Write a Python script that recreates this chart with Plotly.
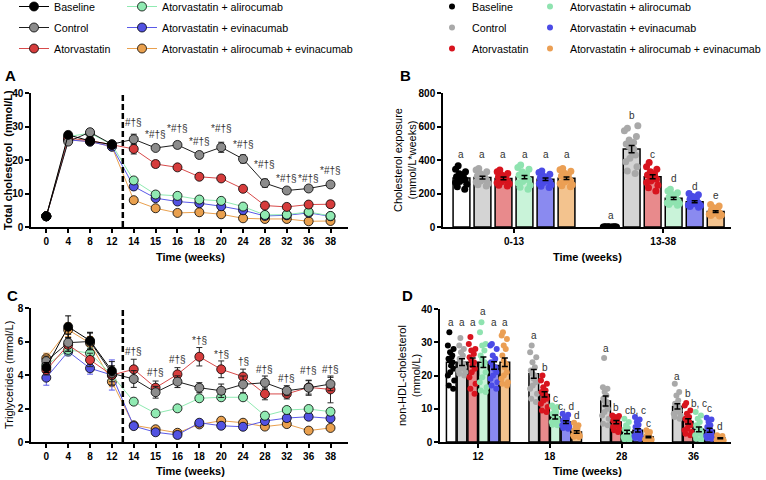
import plotly.graph_objects as go

FONT = "Arial, Liberation Sans, sans-serif"
W, H = 766, 480

GROUPS = ["Baseline", "Control", "Atorvastatin", "Atorvastatin + alirocumab",
          "Atorvastatin + evinacumab", "Atorvastatin + alirocumab + evinacumab"]
WEEKS = ["0", "4", "8", "12", "14", "15", "16", "18", "20", "24", "28", "32", "36", "38"]

# ---------------- Panel A: total cholesterol (mmol/L) ----------------
tc_baseline = [3.2, 27.5, 25.7, 24.6]
tc_control = [3.2, 25.5, 28.3, 24.7, 26.2, 23.6, 24.5, 21.5, 23.8, 20.3, 13.1, 10.9, 11.5, 12.7]
tc_atorva = [3.2, 26.5, 25.8, 24.5, 23.3, 18.8, 17.8, 15.0, 14.5, 11.4, 6.4, 6.0, 6.7, 6.8]
tc_ali = [3.2, 27.0, 28.0, 24.6, 13.9, 9.7, 9.3, 8.2, 7.8, 6.1, 3.6, 3.7, 4.5, 3.3]
tc_evi = [3.2, 26.0, 25.5, 24.0, 12.1, 8.6, 7.6, 7.1, 6.2, 5.0, 3.3, 3.5, 4.2, 3.2]
tc_triple = [3.2, 26.0, 25.5, 24.0, 8.0, 5.6, 4.2, 4.4, 3.8, 2.6, 2.4, 2.4, 1.7, 1.8]
tc_baseline_sem = [0.3, 0.8, 0.8, 0.6]
tc_control_sem = [0.3, 0.8, 0.9, 0.6, 1.5, 0.8, 1.0, 1.0, 1.5, 1.2, 1.2, 0.6, 0.6, 0.6]
tc_atorva_sem = [0.3, 0.6, 0.6, 0.5, 1.5, 1.0, 0.7, 0.6, 0.6, 0.6, 0.5, 0.5, 0.6, 1.0]
tc_ali_sem = [0.3, 0.6, 0.6, 0.5, 0.7, 0.5, 0.5, 0.4, 0.4, 0.4, 0.3, 0.3, 0.3, 0.3]
tc_evi_sem = [0.3, 0.6, 0.6, 0.5, 0.6, 0.4, 0.4, 0.4, 0.4, 0.3, 0.3, 0.3, 0.3, 0.3]
tc_triple_sem = [0.3, 0.6, 0.6, 0.5, 0.4, 0.3, 0.3, 0.3, 0.3, 0.2, 0.2, 0.2, 0.2, 0.2]
tc_sig_weeks = ["14", "15", "16", "18", "20", "24", "28", "32", "36", "38"]
tc_sig_text = ["#†§", "*#†§", "*#†§", "*#†§", "*#†§", "*#†§", "*#†§", "*#†§", "*#†§", "*#†§"]
tc_sig_y = [31.3, 27.5, 29.5, 25.5, 29.5, 24.5, 18.7, 14.5, 14.5, 17.0]

# ---------------- Panel C: triglycerides (mmol/L) ----------------
tg_baseline = [4.45, 6.88, 6.05, 4.25]
tg_control = [4.83, 5.93, 6.0, 4.1, 3.76, 2.97, 3.6, 3.24, 3.06, 3.44, 3.54, 3.06, 3.24, 3.46]
tg_atorva = [4.3, 5.8, 4.9, 4.0, 4.34, 3.24, 4.04, 5.09, 4.34, 3.9, 2.87, 2.87, 3.26, 3.14]
tg_ali = [4.6, 5.5, 5.3, 4.0, 2.41, 1.71, 2.01, 2.61, 2.67, 2.67, 1.57, 1.91, 1.97, 1.81]
tg_evi = [3.84, 5.4, 4.4, 4.0, 0.95, 0.58, 0.42, 1.15, 0.97, 0.91, 1.25, 1.43, 1.51, 1.41]
tg_triple = [5.0, 6.7, 5.9, 3.6, 1.0, 0.76, 0.55, 1.05, 1.27, 1.15, 0.92, 1.07, 0.68, 0.84]
tg_baseline_sem = [0.3, 0.65, 0.5, 0.3]
tg_control_sem = [0.3, 0.5, 0.5, 0.7, 0.5, 0.35, 0.35, 0.3, 0.4, 0.5, 0.4, 0.3, 0.45, 0.4]
tg_atorva_sem = [0.3, 0.4, 0.4, 0.4, 0.6, 0.4, 0.4, 0.55, 0.5, 0.45, 0.35, 0.3, 0.4, 0.8]
tg_ali_sem = [0.3, 0.3, 0.3, 0.3, 0.15, 0.1, 0.1, 0.15, 0.15, 0.15, 0.1, 0.1, 0.1, 0.1]
tg_evi_sem = [0.45, 0.25, 0.35, 0.9, 0.1, 0.1, 0.1, 0.1, 0.1, 0.1, 0.1, 0.1, 0.1, 0.1]
tg_triple_sem = [0.3, 0.4, 0.4, 0.3, 0.1, 0.1, 0.1, 0.1, 0.1, 0.1, 0.1, 0.1, 0.1, 0.1]
tg_sig_weeks = ["14", "15", "16", "18", "20", "24", "28", "32", "36", "38"]
tg_sig_text = ["#†§", "#†§", "#†§", "*†§", "*†§", "†§", "#†§", "#†§", "#†§", "#†§"]
tg_sig_y = [5.39, 4.14, 4.95, 6.05, 5.25, 4.78, 4.3, 3.8, 4.24, 4.34]

# ---------------- Panel B: cholesterol exposure (mmol/L*weeks) ----------------
EXPO_PERIODS = ["0-13", "13-38"]
expo_mean_0_13 = [292, 295, 290, 298, 285, 291]
expo_sem_0_13 = [10, 8, 8, 10, 8, 8]
expo_mean_13_38 = [0, 465, 300, 171, 151, 92]
expo_sem_13_38 = [0, 22, 12, 7, 6, 5]
expo_dots_0_13 = [
    [365, 345, 330, 318, 310, 300, 295, 290, 285, 280, 272, 265, 255, 240, 225],
    [350, 340, 330, 320, 310, 305, 298, 292, 288, 280, 275, 268, 260, 252, 245],
    [340, 330, 320, 312, 305, 298, 292, 288, 282, 276, 270, 264, 258, 250, 245],
    [370, 355, 345, 330, 318, 310, 302, 296, 290, 282, 272, 262, 250, 238, 225],
    [335, 325, 315, 305, 298, 292, 288, 282, 278, 272, 266, 260, 252, 244, 236],
    [350, 342, 333, 322, 312, 304, 296, 290, 284, 276, 268, 260, 252, 246, 240],
]
expo_dots_13_38 = [
    [0, 0, 0, 0, 0, 0, 0, 0, 0, 0, 0, 0, 0, 0, 0],
    [605, 590, 575, 540, 520, 505, 495, 480, 465, 450, 430, 410, 390, 360, 335, 320],
    [385, 360, 345, 330, 318, 310, 302, 298, 292, 285, 275, 265, 250, 235, 215],
    [225, 215, 205, 195, 185, 178, 172, 168, 162, 158, 150, 145, 140, 135, 130],
    [200, 192, 182, 172, 165, 158, 152, 148, 143, 138, 132, 128, 122, 118],
    [135, 125, 115, 108, 100, 95, 92, 88, 85, 80, 76, 72, 68, 65],
]
expo_letters_0_13 = ["a", "a", "a", "a", "a", "a"]
expo_letters_13_38 = ["a", "b", "c", "d", "d", "e"]
expo_letter_y_0_13 = [430, 430, 430, 430, 430, 430]
expo_letter_y_13_38 = [70, 668, 430, 287, 240, 190]

# ---------------- Panel D: non-HDL-cholesterol (mmol/L) ----------------
NHDL_WEEKS = ["12", "18", "28", "36"]
nhdl_mean_12 = [24.0, 24.0, 24.0, 24.0, 23.0, 24.0]
nhdl_sem_12 = [1.2, 1.0, 1.3, 1.6, 1.1, 1.3]
nhdl_mean_18 = [None, 20.5, 14.3, 7.5, 6.0, 3.0]
nhdl_sem_18 = [None, 1.3, 0.8, 0.6, 0.4, 0.4]
nhdl_mean_28 = [None, 12.3, 6.0, 3.0, 3.5, 1.5]
nhdl_sem_28 = [None, 1.5, 0.5, 0.5, 0.5, 0.25]
nhdl_mean_36 = [None, 10.7, 6.2, 3.8, 3.5, 1.1]
nhdl_sem_36 = [None, 0.8, 0.8, 0.7, 0.6, 0.15]
nhdl_dots_12 = [
    [33, 29, 28, 27, 26, 25, 24.5, 24, 23, 22, 21, 20, 18.5, 17, 16],
    [31.3, 29, 28, 27, 26, 25, 24, 23.5, 23, 22.5, 22, 21.5, 21, 20.5, 20],
    [31.6, 29.5, 28, 27.5, 26.5, 25.5, 24.5, 24, 23, 22, 21, 19.5, 17.5, 16, 14.5],
    [36, 33, 29.5, 29, 27.5, 26, 25, 24, 23, 21, 19.5, 18, 16.5, 15.5, 15],
    [29.5, 29, 28, 26, 25, 24, 23, 22.5, 22, 21, 20, 19, 18, 17, 16],
    [33, 32, 31, 29, 28, 26, 24.5, 23.5, 22.5, 21, 20, 19, 18, 17.5, 17],
]
nhdl_dots_18 = [
    [],
    [29, 27, 25.5, 24, 22.5, 21.5, 20.5, 20, 19, 18, 17, 16, 14.5, 13, 12],
    [20, 18.5, 17.5, 16.5, 15.5, 15, 14.5, 14, 13.5, 13, 12.5, 11.5, 10.5, 9.5, 9],
    [11, 10.5, 10, 9, 8.5, 8, 7.5, 7, 6.8, 6.5, 6, 5.5, 5.2, 5],
    [8.5, 8.2, 7.5, 7, 6.5, 6.2, 6, 5.7, 5.5, 5.2, 5, 4.6, 4.2, 4],
    [5.8, 5, 4.5, 4, 3.5, 3.2, 3, 2.8, 2.5, 2.2, 2, 1.8, 1.6, 1.5],
]
nhdl_dots_28 = [
    [],
    [25.3, 16.5, 16, 15, 14, 13, 12.5, 12, 11, 10, 9, 8, 7, 5.5, 5],
    [8, 7.8, 7.5, 7, 6.5, 6.2, 6, 5.8, 5.5, 5, 4.5, 4, 3.5, 3],
    [7, 6, 5, 4.2, 3.8, 3.2, 2.8, 2.5, 2, 1.8, 1.5, 1.2, 0.8, 0.5],
    [7.5, 6.8, 6, 5.2, 4.5, 4, 3.5, 3, 2.5, 2, 1.8, 1.5, 1.2, 1],
    [3.5, 3, 2.5, 2, 1.8, 1.5, 1.3, 1.2, 1, 0.9, 0.8, 0.7, 0.6, 0.5],
]
nhdl_dots_36 = [
    [],
    [17.5, 15, 14, 12.5, 11.5, 11, 10.5, 10, 9.5, 9, 8.5, 8, 7.5, 7],
    [11.7, 11, 9.5, 8.5, 7.5, 7, 6.5, 6, 5.5, 5, 4, 3.5, 3, 2.5, 2],
    [9, 8, 7, 6, 5, 4.5, 4, 3.5, 3, 2.5, 2, 1.5, 1, 0.5],
    [7.3, 6.8, 6, 5, 4.5, 4, 3.5, 3, 2.5, 2, 1.8, 1.5, 1.2, 1],
    [2, 1.8, 1.6, 1.4, 1.2, 1.1, 1, 0.9, 0.8, 0.7, 0.6, 0.5, 0.4, 0.3],
]
nhdl_letters_12 = ["a", "a", "a", "a", "a", "a"]
nhdl_letters_18 = [None, "a", "b", "c", "c, d", "d"]
nhdl_letters_28 = [None, "a", "b", "c", "b, c", "c"]
nhdl_letters_36 = [None, "a", "b", "b, c", "c", "d"]
nhdl_letter_y_12 = [35.8, 35.8, 35.8, 39.2, 35.8, 35.8]
nhdl_letter_y_18 = [None, 31.9, 22.3, 13.0, 10.6, 8.1]
nhdl_letter_y_28 = [None, 28.2, 10.3, 9.6, 9.6, 5.6]
nhdl_letter_y_36 = [None, 19.6, 14.7, 11.7, 10.2, 4.6]

# ---------------- styles ----------------
LINE_MARKER = ["#000000", "#8c8c8c", "#d63c3c", "#90eab2", "#5252e2", "#e9a04e"]
LINE_COLOR = ["#000000", "#1e1e1e", "#d84a4a", "#90eab2", "#5a5ae8", "#e9a04e"]
ERR_COLOR = ["#000000", "#1e1e1e", "#2a2a2a", "#90eab2", "#5a5ae8", "#e9a04e"]
DOT_COLOR = ["#000000", "#a9a9a9", "#d8141e", "#8fe3b0", "#4b4be6", "#eb9f54"]
BAR_FILL = ["#ffffff", "#d4d4d4", "#e88a8c", "#c9f3d9", "#8a8af0", "#f3c38e"]

fig = go.Figure()

# line panels (draw order bottom -> top)
DRAW_ORDER = [5, 4, 3, 2, 1, 0]
tc_all = [tc_baseline, tc_control, tc_atorva, tc_ali, tc_evi, tc_triple]
tc_sem_all = [tc_baseline_sem, tc_control_sem, tc_atorva_sem, tc_ali_sem, tc_evi_sem, tc_triple_sem]
tg_all = [tg_baseline, tg_control, tg_atorva, tg_ali, tg_evi, tg_triple]
tg_sem_all = [tg_baseline_sem, tg_control_sem, tg_atorva_sem, tg_ali_sem, tg_evi_sem, tg_triple_sem]

for panel, (vals, sems, xa, ya) in enumerate([(tc_all, tc_sem_all, "x", "y"),
                                              (tg_all, tg_sem_all, "x3", "y3")]):
    for g in DRAW_ORDER:
        y = vals[g]
        fig.add_trace(go.Scatter(
            x=WEEKS[:len(y)], y=y, xaxis=xa, yaxis=ya,
            mode="lines+markers", name=GROUPS[g], legendgroup=f"L{g}", legendrank=g + 1,
            line=dict(color=LINE_COLOR[g], width=1),
            marker=dict(size=9, color=LINE_MARKER[g], line=dict(color="#000000", width=0.8)),
            error_y=dict(type="data", array=sems[g], color=ERR_COLOR[g], thickness=1, width=3),
            showlegend=(panel == 0),
            legend="legend" if g < 3 else "legend2",
            cliponaxis=False,
        ))

# bar panels
B_GAP = 7.1
D_GAP = 6.7


def bar_panel(means_by_period, sems_by_period, dots_by_period, gap, xa, ya, barw, dotsize):
    for g in range(6):
        xs, ys = [], []
        for p, means in enumerate(means_by_period):
            if means[g] is not None:
                xs.append(p * gap + (g - 2.5))
                ys.append(means[g])
        fig.add_trace(go.Bar(x=xs, y=ys, xaxis=xa, yaxis=ya, width=barw,
                             marker=dict(color=BAR_FILL[g], line=dict(color="#000000", width=1.5)),
                             showlegend=False))
    for g in range(6):
        for p, dots in enumerate(dots_by_period):
            if dots[g]:
                pos = p * gap + (g - 2.5)
                fig.add_trace(go.Box(x=[pos] * len(dots[g]), y=dots[g], xaxis=xa, yaxis=ya,
                                     width=barw, boxpoints="all", jitter=0.9, pointpos=0,
                                     fillcolor="rgba(0,0,0,0)", line=dict(width=0, color="rgba(0,0,0,0)"),
                                     marker=dict(color=DOT_COLOR[g], size=dotsize),
                                     showlegend=False, hoverinfo="y"))
    for g in range(6):
        xs, ys, es = [], [], []
        for p, means in enumerate(means_by_period):
            if means[g] is not None:
                xs.append(p * gap + (g - 2.5))
                ys.append(means[g])
                es.append(sems_by_period[p][g])
        fig.add_trace(go.Scatter(x=xs, y=ys, xaxis=xa, yaxis=ya, mode="markers",
                                 marker=dict(size=1, color="rgba(0,0,0,0)"),
                                 error_y=dict(type="data", array=es, color="#000000",
                                              thickness=1.5, width=3),
                                 showlegend=False, hoverinfo="skip"))


bar_panel([expo_mean_0_13, expo_mean_13_38], [expo_sem_0_13, expo_sem_13_38],
          [expo_dots_0_13, expo_dots_13_38], B_GAP, "x2", "y2", 0.8, 7)
bar_panel([nhdl_mean_12, nhdl_mean_18, nhdl_mean_28, nhdl_mean_36],
          [nhdl_sem_12, nhdl_sem_18, nhdl_sem_28, nhdl_sem_36],
          [nhdl_dots_12, nhdl_dots_18, nhdl_dots_28, nhdl_dots_36], D_GAP, "x4", "y4", 0.9, 6)

# right-hand legend entries (dots)
for g in range(6):
    fig.add_trace(go.Scatter(x=[None], y=[None], xaxis="x2", yaxis="y2", mode="markers",
                             name=GROUPS[g], legendgroup=f"D{g}", legendrank=g + 1,
                             marker=dict(size=6, color=DOT_COLOR[g]),
                             legend="legend3" if g < 3 else "legend4"))

annotations = []
# category axes: annotations are placed by category index
for wk, txt, yy in zip(tc_sig_weeks, tc_sig_text, tc_sig_y):
    annotations.append(dict(x=WEEKS.index(wk), y=yy, xref="x", yref="y", text=txt, showarrow=False,
                            font=dict(size=10, color="#333333", family=FONT)))
for wk, txt, yy in zip(tg_sig_weeks, tg_sig_text, tg_sig_y):
    annotations.append(dict(x=WEEKS.index(wk), y=yy, xref="x3", yref="y3", text=txt, showarrow=False,
                            font=dict(size=10, color="#333333", family=FONT)))
for p, (letters, ly) in enumerate([(expo_letters_0_13, expo_letter_y_0_13),
                                   (expo_letters_13_38, expo_letter_y_13_38)]):
    for g in range(6):
        annotations.append(dict(x=p * B_GAP + (g - 2.5), y=ly[g], xref="x2", yref="y2",
                                text=letters[g], showarrow=False,
                                font=dict(size=10, color="#333333", family=FONT)))
for p, (letters, ly) in enumerate([(nhdl_letters_12, nhdl_letter_y_12), (nhdl_letters_18, nhdl_letter_y_18),
                                   (nhdl_letters_28, nhdl_letter_y_28), (nhdl_letters_36, nhdl_letter_y_36)]):
    for g in range(6):
        if letters[g] is None:
            continue
        annotations.append(dict(x=p * D_GAP + (g - 2.5), y=ly[g], xref="x4", yref="y4",
                                text=letters[g], showarrow=False,
                                font=dict(size=10, color="#333333", family=FONT)))


def px_x(v):
    return v / W


def px_y(v):
    return 1 - v / H


# panel letters
for letter, xx, yy in [("A", 3, 75), ("B", 398, 75), ("C", 5, 295), ("D", 400, 295)]:
    annotations.append(dict(x=px_x(xx), y=px_y(yy), xref="paper", yref="paper", xanchor="left",
                            yanchor="middle", text=f"<b>{letter}</b>", showarrow=False,
                            font=dict(size=15, color="#000000", family=FONT)))
# axis titles
for txt, xx, yy in [("<b>Time (weeks)</b>", 190, 257), ("<b>Time (weeks)</b>", 587, 257),
                    ("<b>Time (weeks)</b>", 190, 471), ("<b>Time (weeks)</b>", 587, 471)]:
    annotations.append(dict(x=px_x(xx), y=px_y(yy), xref="paper", yref="paper", xanchor="center",
                            yanchor="middle", text=txt, showarrow=False,
                            font=dict(size=11, color="#000000", family=FONT)))
for txt, xx, yy in [("<b>Total cholesterol  (mmol/L)</b>", 8, 160),
                    ("Cholesterol exposure<br>(mmol/L*weeks)", 405, 160),
                    ("Triglycerides (mmol/L)", 9, 375),
                    ("non-HDL-cholesterol<br>(mmol/L)", 409, 375)]:
    annotations.append(dict(x=px_x(xx), y=px_y(yy), xref="paper", yref="paper", xanchor="center",
                            yanchor="middle", text=txt, showarrow=False, textangle=-90,
                            font=dict(size=11, color="#000000", family=FONT)))

AX = dict(showgrid=False, zeroline=False, showline=True, linecolor="#000000", linewidth=1.5,
          ticks="outside", ticklen=4, tickwidth=1.5, tickcolor="#000000", automargin=False,
          tickfont=dict(family=FONT, size=10, color="#000000", weight="bold"), fixedrange=True)

DASH_X = 3.5
shapes = [dict(type="line", xref="x", yref="y", x0=DASH_X, x1=DASH_X, y0=0, y1=40,
               line=dict(color="#000000", width=2.5, dash="6px,3px"))]
shapes.append(dict(type="line", xref="x3", yref="y3", x0=DASH_X, x1=DASH_X, y0=0, y1=8,
                   line=dict(color="#000000", width=2.5, dash="6px,3px")))

LEG = dict(xanchor="left", yanchor="top", bgcolor="rgba(0,0,0,0)", traceorder="grouped",
           font=dict(family=FONT, size=10.7, color="#000000"), itemwidth=30, tracegroupgap=2)

LEG_TOP = px_y(-8)
fig.update_layout(
    width=W, height=H, margin=dict(l=0, r=0, t=0, b=0, autoexpand=False),
    paper_bgcolor="white", plot_bgcolor="white",
    font=dict(family=FONT, size=11, color="#000000"),
    barmode="overlay", boxmode="overlay", showlegend=True,
    xaxis=dict(AX, type="category", categoryorder="array", categoryarray=WEEKS,
               range=[-0.7, 13.8], domain=[px_x(31), px_x(348)], anchor="y"),
    yaxis=dict(AX, range=[0, 40], dtick=10, domain=[px_y(227), px_y(93)], anchor="x"),
    xaxis2=dict(AX, range=[-3.38, 10.33], tickvals=[0, B_GAP], ticktext=EXPO_PERIODS,
                domain=[px_x(443), px_x(731)], anchor="y2"),
    yaxis2=dict(AX, range=[0, 800], dtick=200, domain=[px_y(227), px_y(93)], anchor="x2"),
    xaxis3=dict(AX, type="category", categoryorder="array", categoryarray=WEEKS,
                range=[-0.7, 13.8], domain=[px_x(31), px_x(348)], anchor="y3"),
    yaxis3=dict(AX, range=[0, 8], dtick=2, domain=[px_y(442), px_y(308)], anchor="x3"),
    xaxis4=dict(AX, range=[-3.55, 23.6], tickvals=[0, D_GAP, 2 * D_GAP, 3 * D_GAP], ticktext=NHDL_WEEKS,
                domain=[px_x(440), px_x(731)], anchor="y4"),
    yaxis4=dict(AX, range=[0, 40], dtick=10, domain=[px_y(442), px_y(309)], anchor="x4"),
    legend=dict(LEG, x=px_x(14), y=LEG_TOP),
    legend2=dict(LEG, x=px_x(122), y=LEG_TOP),
    legend3=dict(LEG, x=px_x(432), y=LEG_TOP),
    legend4=dict(LEG, x=px_x(530), y=LEG_TOP),
    annotations=annotations, shapes=shapes,
)

fig.write_html("out.html", config={"displayModeBar": False},
               post_script="document.body.style.margin='0';document.body.style.overflow='hidden';")
